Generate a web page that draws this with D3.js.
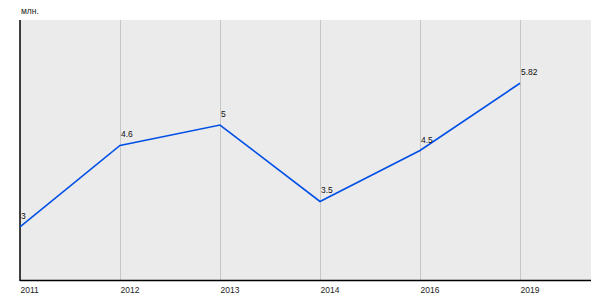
<!DOCTYPE html>
<html><head><meta charset="utf-8">
<script src="https://cdn.jsdelivr.net/npm/d3@7"></script>
<style>body{margin:0;background:#fff}svg{display:block}text{font-family:"Liberation Sans",Arial,sans-serif}</style>
</head><body><svg id="c" width="600" height="300"></svg>
<script>
const years = ["2011","2012","2013","2014","2016","2019"];
const values = [3, 4.6, 5, 3.5, 4.5, 5.82];
const valueLabels = ["3","4.6","5","3.5","4.5","5.82"];
const unitLabel = "млн.";

const svg = d3.select("#c");
const L = 20, R = 591, T = 20, B = 280;
const x = d3.scalePoint().domain(years).range([L, L + 500]);
const y = d3.scaleLinear().domain([1.96, 7.06]).range([B, T]);

svg.append("rect").attr("x", L).attr("y", T).attr("width", R - L).attr("height", B - T).attr("fill", "#ebebeb");

// vertical gridlines
svg.append("g").selectAll("line").data(years.slice(1)).join("line")
  .attr("x1", d => x(d) + 0.5).attr("x2", d => x(d) + 0.5)
  .attr("y1", T).attr("y2", B)
  .attr("stroke", "#c6c6c6").attr("stroke-width", 1);

// axes
const xAxis = d3.axisBottom(x).tickSize(0).tickPadding(5);
const gx = svg.append("g").attr("transform", `translate(0,${B})`).call(xAxis);
gx.select(".domain").attr("d", `M${L},0.5H${R}`).attr("stroke", "#000").attr("stroke-width", 1.5);
gx.selectAll("text").attr("font-size", 8.5).attr("fill", "#222").attr("text-anchor", "start").attr("dx", 0).attr("dy", "0.9em");

svg.append("line").attr("x1", L).attr("x2", L).attr("y1", T).attr("y2", B + 1)
  .attr("stroke", "#000").attr("stroke-width", 1.5);

svg.append("text").attr("x", L + 1).attr("y", 14).attr("font-size", 8.5).attr("fill", "#222").text(unitLabel);

// line
const data = years.map((d, i) => ({year: d, v: values[i], label: valueLabels[i]}));
svg.append("path").datum(data)
  .attr("fill", "none").attr("stroke", "#0050e6").attr("stroke-width", 1.6)
  .attr("d", d3.line().x(d => x(d.year)).y(d => y(d.v)));

svg.append("g").selectAll("text").data(data).join("text")
  .attr("x", d => x(d.year) + 1).attr("y", d => y(d.v) - 8)
  .attr("font-size", 8.5).attr("fill", "#111").text(d => d.label);
</script></body></html>
